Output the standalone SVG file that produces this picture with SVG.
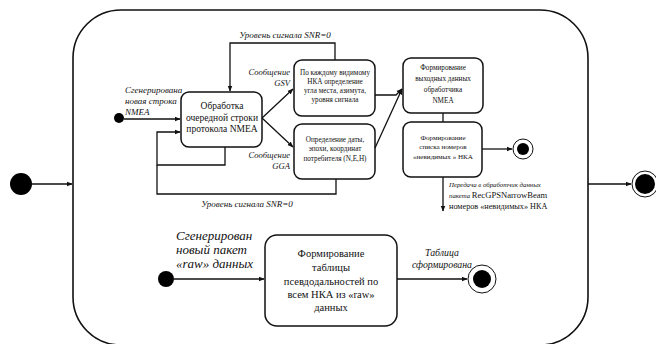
<svg xmlns="http://www.w3.org/2000/svg" width="656" height="344" viewBox="0 0 656 344">
<style>
text{font-family:'Liberation Serif','Times New Roman',serif;fill:#111}
.it{font-style:italic}
.box{fill:#fff;stroke:#111;stroke-width:1.5}
.ln{fill:none;stroke:#111;stroke-width:1.3}
</style>
<defs>
<marker id="ah" viewBox="0 0 10 10" refX="9" refY="5" markerWidth="6" markerHeight="6" orient="auto" markerUnits="userSpaceOnUse"><path d="M0,1 L10,5 L0,9 Z" fill="#111"/></marker>
</defs>
<rect width="656" height="344" fill="#fff"/>
<g id="outer"><rect x="73" y="10" width="515" height="335" rx="48" fill="none" stroke="#111" stroke-width="1.6"/></g>
<g id="start-outer"><circle cx="21" cy="184" r="11" fill="#000"/></g>
<g id="end-outer"><circle cx="645" cy="184" r="13" fill="#fff" stroke="#111" stroke-width="1"/><circle cx="645" cy="184" r="10" fill="#000"/></g>
<g id="start-nmea"><circle cx="119" cy="118" r="5" fill="#000"/></g>
<g id="proc"><rect class="box" x="181" y="92" width="81" height="55" rx="8"/>
<text font-size="9.5" text-anchor="middle"><tspan x="222" y="109">Обработка</tspan><tspan x="222" y="121">очередной строки</tspan><tspan x="222" y="132">протокола NMEA</tspan></text></g>
<g id="gsv"><rect class="box" x="294" y="60" width="81" height="56" rx="8"/>
<text font-size="7.2" text-anchor="middle"><tspan x="335" y="75">По каждому видимому</tspan><tspan x="335" y="84">НКА определение</tspan><tspan x="335" y="93">угла места, азимута,</tspan><tspan x="335" y="102">уровня сигнала</tspan></text></g>
<g id="gga"><rect class="box" x="294" y="124" width="81" height="55" rx="8"/>
<text font-size="7.2" text-anchor="middle"><tspan x="335" y="142">Определение даты,</tspan><tspan x="335" y="151">эпохи, координат</tspan><tspan x="335" y="161">потребителя (N,E,H)</tspan></text></g>
<g id="out"><rect class="box" x="403" y="58" width="80" height="55" rx="8"/>
<text font-size="7.2" text-anchor="middle"><tspan x="443" y="70">Формирование</tspan><tspan x="443" y="81">выходных данных</tspan><tspan x="443" y="92">обработчика</tspan><tspan x="443" y="103">NMEA</tspan></text></g>
<g id="invis"><rect class="box" x="403" y="122" width="79" height="55" rx="8"/>
<text font-size="7.1" text-anchor="middle"><tspan x="443" y="140">Формирование</tspan><tspan x="443" y="149">списка номеров</tspan><tspan x="443" y="159">«невидимых » НКА</tspan></text></g>
<g id="end-nmea"><circle cx="523" cy="149" r="10" fill="#fff" stroke="#111" stroke-width="1"/><circle cx="523" cy="149" r="6" fill="#000"/></g>
<g id="start-raw"><circle cx="166" cy="279" r="8" fill="#000"/></g>
<g id="pseudo"><rect class="box" x="265" y="235" width="132" height="91" rx="12"/>
<text font-size="10.5" text-anchor="middle"><tspan x="331" y="257">Формирование</tspan><tspan x="331" y="271">таблицы</tspan><tspan x="331" y="285">псевдодальностей по</tspan><tspan x="331" y="298">всем НКА из «raw»</tspan><tspan x="331" y="311">данных</tspan></text></g>
<g id="end-raw"><circle cx="482" cy="279" r="14" fill="#fff" stroke="#111" stroke-width="1"/><circle cx="482" cy="279" r="9" fill="#000"/></g>
<g id="connectors">
<path class="ln" d="M32,184 L72,184" marker-end="url(#ah)"/>
<path class="ln" d="M588,184 L631,184" marker-end="url(#ah)"/>
<path class="ln" d="M124,119 L180,119" marker-end="url(#ah)"/>
<path class="ln" d="M225,147 L225,165 L157,165 L157,132 L180,132" marker-end="url(#ah)"/>
<path class="ln" d="M335,60 L335,43 L230,43 L230,91" marker-end="url(#ah)"/>
<path class="ln" d="M336,179 L336,194 L157,194 L157,165"/>
<path class="ln" d="M262,118 L293,89" marker-end="url(#ah)"/>
<path class="ln" d="M262,118 L293,147" marker-end="url(#ah)"/>
<path class="ln" d="M375,95 L396,95 L402,89" marker-end="url(#ah)"/>
<path class="ln" d="M375,148 L402,89" marker-end="url(#ah)"/>
<path class="ln" d="M443,113 L443,122"/>
<path class="ln" d="M482,149 L512,149" marker-end="url(#ah)"/>
<path class="ln" d="M443,177 L443,211" marker-end="url(#ah)"/>
<path class="ln" d="M174,279 L264,279" marker-end="url(#ah)"/>
<path class="ln" d="M397,279 L467,279" marker-end="url(#ah)"/>
</g>
<g id="labels">
<text class="it" font-size="9" x="125" y="93">Сгенерирована</text>
<text class="it" font-size="9" x="125" y="104">новая строка</text>
<text class="it" font-size="9" x="125" y="115">NMEA</text>
<text class="it" font-size="9" x="285" y="38" text-anchor="middle">Уровень сигнала SNR=0</text>
<text class="it" font-size="9" x="247" y="207" text-anchor="middle">Уровень сигнала SNR=0</text>
<text class="it" font-size="8.6" x="290" y="75" text-anchor="end">Сообщение</text>
<text class="it" font-size="8.6" x="290" y="86" text-anchor="end">GSV</text>
<text class="it" font-size="8.6" x="290" y="158" text-anchor="end">Сообщение</text>
<text class="it" font-size="8.6" x="290" y="169" text-anchor="end">GGA</text>
<text class="it" font-size="6.8" x="449" y="187">Передача в обработчик данных</text>
<text x="449" y="198"><tspan class="it" font-size="6.8">пакета </tspan><tspan font-size="8.6">RecGPSNarrowBeam</tspan></text>
<text font-size="8.2" x="449" y="209">номеров «невидимых» НКА</text>
<text class="it" font-size="13" x="176" y="240">Сгенерирован</text>
<text class="it" font-size="13" x="176" y="254">новый пакет</text>
<text class="it" font-size="13" x="176" y="268">«raw» данных</text>
<text class="it" font-size="9.8" x="442" y="256" text-anchor="middle">Таблица</text>
<text class="it" font-size="9.8" x="442" y="268" text-anchor="middle">сформирована</text>
</g>
</svg>
